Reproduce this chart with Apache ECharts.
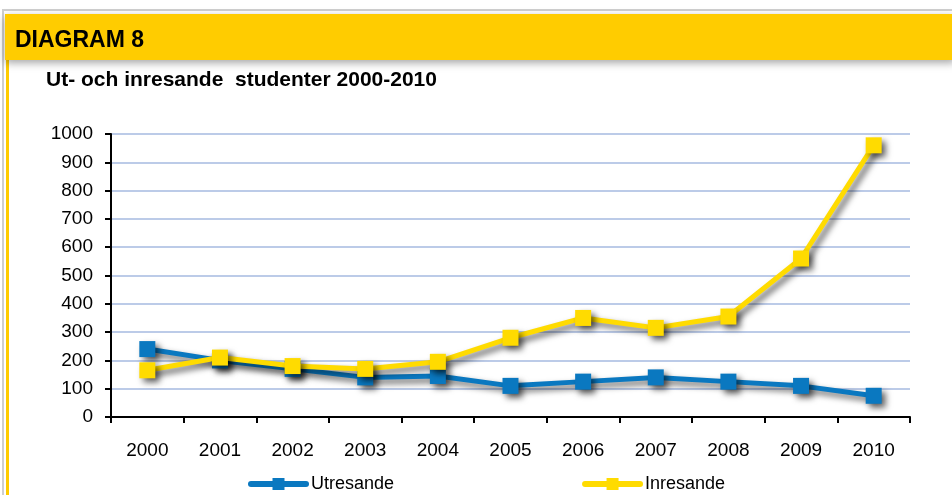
<!DOCTYPE html>
<html>
<head>
<meta charset="utf-8">
<script src="https://cdn.jsdelivr.net/npm/echarts@6/dist/echarts.min.js"></script>
<style>
  html, body { margin: 0; padding: 0; background: #fff; }
  #chart { width: 952px; height: 495px; }
</style>
</head>
<body>
<div id="chart"></div>
<script>
// år på x-axeln
var years = ['2000', '2001', '2002', '2003', '2004', '2005', '2006', '2007', '2008', '2009', '2010'];
// antal studenter
var utresande = [240, 200, 170, 140, 145, 110, 125, 140, 125, 110, 75];
var inresande = [165, 210, 180, 170, 195, 280, 350, 315, 355, 560, 960];
var yTicks = [0, 1000, 100];

var chart = echarts.init(document.getElementById('chart'));

var shadow = {
  shadowColor: 'rgba(0,0,0,0.6)',
  shadowBlur: 6,
  shadowOffsetX: 4,
  shadowOffsetY: 4
};

var option = {
  backgroundColor: '#fff',
  animation: false,
  textStyle: { fontFamily: 'Liberation Sans, Arial, sans-serif' },
  graphic: [
    // ram
    { type: 'rect', shape: { x: 3, y: 10, width: 960, height: 500 }, style: { fill: '#fff', stroke: '#cfcfcf', lineWidth: 2 }, z: -10 },
    { type: 'rect', shape: { x: 6, y: 60, width: 3, height: 440 }, style: { fill: '#ffcc00' }, z: -9 },
    { type: 'rect', shape: { x: 5, y: 14, width: 950, height: 46 }, style: { fill: '#ffcc00', shadowColor: 'rgba(0,0,0,0.35)', shadowBlur: 8, shadowOffsetY: 3 }, z: -8 },
    { type: 'text', left: 15, top: 29, style: { text: 'DIAGRAM 8', font: 'bold 23px Liberation Sans, Arial, sans-serif', fill: '#000' }, z: 5 },
    { type: 'text', left: 46, top: 70, style: { text: 'Ut- och inresande  studenter 2000-2010', font: 'bold 21px Liberation Sans, Arial, sans-serif', fill: '#000' }, z: 5 }
  ],
  legend: {
    top: 470,
    left: 243,
    itemGap: 188,
    itemWidth: 55,
    itemHeight: 15,
    lineStyle: { width: 6, cap: 'round' },
    textStyle: { fontSize: 18, color: '#000' },
    data: ['Utresande', 'Inresande']
  },
  grid: { left: 111, right: 42, top: 134, bottom: 78 },
  xAxis: {
    type: 'category',
    data: years,
    boundaryGap: true,
    axisLine: { lineStyle: { color: '#000', width: 2 } },
    axisTick: { show: true, length: 6, lineStyle: { color: '#000', width: 2 } },
    axisLabel: { fontSize: 19, color: '#000', margin: 24 }
  },
  yAxis: {
    type: 'value',
    min: yTicks[0],
    max: yTicks[1],
    interval: yTicks[2],
    axisLine: { show: true, lineStyle: { color: '#000', width: 2 } },
    axisTick: { show: true, length: 6, lineStyle: { color: '#000', width: 2 } },
    axisLabel: { fontSize: 19, color: '#000', margin: 18, formatter: function (v) { return String(v); } },
    splitLine: { lineStyle: { color: '#bccbe8', width: 2 } }
  },
  series: [
    {
      name: 'Utresande',
      type: 'line',
      data: utresande,
      symbol: 'rect',
      symbolSize: 16,
      color: '#0a78c0',
      lineStyle: Object.assign({ width: 5, color: '#0a78c0' }, shadow),
      itemStyle: Object.assign({ color: '#0a78c0' }, shadow),
      z: 3
    },
    {
      name: 'Inresande',
      type: 'line',
      data: inresande,
      symbol: 'rect',
      symbolSize: 16,
      color: '#ffdb00',
      lineStyle: Object.assign({ width: 5, color: '#ffdb00' }, shadow),
      itemStyle: Object.assign({ color: '#ffdb00' }, shadow),
      z: 4
    }
  ]
};

chart.setOption(option);
</script>
</body>
</html>
